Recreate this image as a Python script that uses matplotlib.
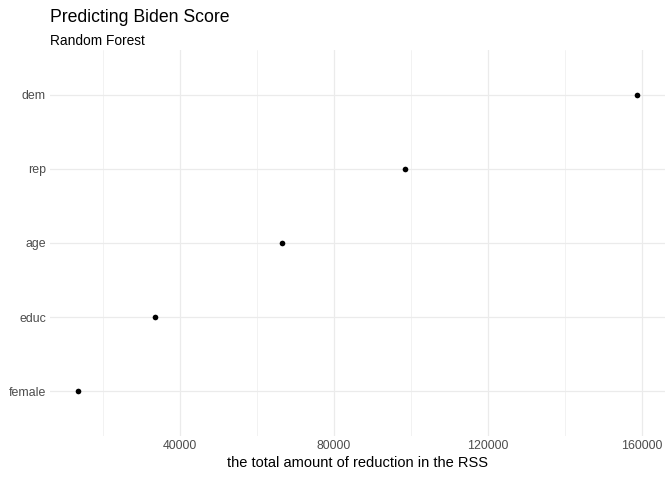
import matplotlib.pyplot as plt
import numpy as np

plt.rcParams['font.family'] = ['Liberation Sans', 'DejaVu Sans']

variables = ['female', 'educ', 'age', 'rep', 'dem']
rss_reduction = [13550, 33600, 66450, 98500, 158700]
xticks = [40000, 80000, 120000, 160000]
minor_xticks = [20000, 60000, 100000, 140000]

fig = plt.figure(figsize=(7, 5), dpi=96)
ax = fig.add_axes([50 / 672, 44 / 480, 615 / 672, 386 / 480])

ypos = np.arange(1, len(variables) + 1)
ax.scatter(rss_reduction, ypos, s=18, color='black', zorder=3, linewidths=0)

rng = max(rss_reduction) - min(rss_reduction)
ax.set_xlim(min(rss_reduction) - 0.05 * rng, max(rss_reduction) + 0.05 * rng)
ax.set_ylim(0.4, len(variables) + 0.6)

ax.set_xticks(xticks)
ax.set_xticklabels([str(t) for t in xticks])
ax.set_xticks(minor_xticks, minor=True)
ax.set_yticks(ypos)
ax.set_yticklabels(variables)

ax.grid(True, which='major', color='#ebebeb', linewidth=0.9)
ax.grid(True, which='minor', axis='x', color='#ebebeb', linewidth=0.45)
ax.set_axisbelow(True)
for s in ax.spines.values():
    s.set_visible(False)
ax.tick_params(which='both', length=0, labelsize=9.3, labelcolor='#4d4d4d', pad=3)

ax.set_xlabel('the total amount of reduction in the RSS', fontsize=11, labelpad=3)

fig.text(50 / 672, 1 - 22 / 480, 'Predicting Biden Score', fontsize=13.2, va='baseline', ha='left')
fig.text(50 / 672, 1 - 45 / 480, 'Random Forest', fontsize=10.3, va='baseline', ha='left')

fig.savefig('out.png', dpi=96)
